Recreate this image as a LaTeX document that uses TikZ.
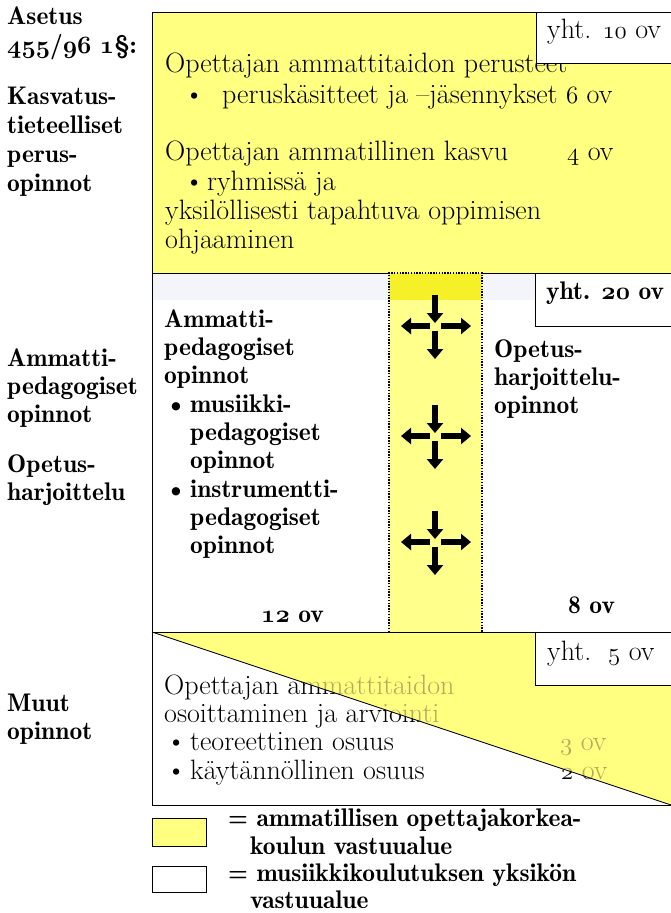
\documentclass[tikz,border=0pt]{standalone}
\usetikzlibrary{arrows.meta,calc}
\definecolor{ylw}{RGB}{255,255,128}
\definecolor{ylwcol}{RGB}{255,255,140}
\definecolor{ylwtop}{RGB}{246,240,40}
\definecolor{faded}{RGB}{185,168,92}
\definecolor{band}{RGB}{243,245,250}
\newcommand\osn[1]{$\mathnormal{#1}$}
\newcommand\bosn[1]{{\boldmath$\mathnormal{#1}$}}
\begin{document}
\begin{tikzpicture}[x=1pt,y=-1pt,
  txt/.style={anchor=base west,inner sep=0pt,font=\fontsize{28}{29}\selectfont},
  btxt/.style={anchor=base west,inner sep=0pt,font=\fontsize{25.5}{28}\fontseries{b}\selectfont},
  bline/.style={draw=black,line width=1pt},
  arr/.style={line width=5.5pt,-{Triangle[length=10pt,width=16pt]}},
  dotcol/.style={draw=black,line width=1.4pt,dash pattern=on 1.4pt off 1.4pt},
]
\useasboundingbox (0,0) rectangle (671,913);
% ---------- top section
\fill[ylw] (152,12) rectangle (673,273);
% ---------- middle section
\fill[white] (152,273) rectangle (673,632);
\fill[band] (152,273) rectangle (389,300);
\fill[band] (482,273) rectangle (535,300);
\fill[ylwcol] (389,273) rectangle (482,632);
\fill[ylwtop] (389,273) rectangle (482,300);
% ---------- bottom section
\fill[white] (152,632) rectangle (673,805);
\fill[ylw] (152,632) -- (673,632) -- (673,805) -- (671,805) -- cycle;

% ---------- left labels
\node[btxt] (l1) at (7,24) {Asetus};
\node[btxt] (l2) at (7,53) {\bosn{455}/\bosn{96} \bosn{1}\S:};
\node[btxt] (l3) at (7,104) {Kasvatus-};
\node[btxt] (l4) at (7,133) {tieteelliset};
\node[btxt] (l5) at (7,162) {perus-};
\node[btxt] (l6) at (7,191) {opinnot};
\node[btxt] (l7) at (7,366) {Ammatti-};
\node[btxt] (l8) at (7,394) {pedagogiset};
\node[btxt] (l9) at (7,422) {opinnot};
\node[btxt] (l10) at (7,472) {Opetus-};
\node[btxt] (l11) at (7,500) {harjoittelu};
\node[btxt] (l12) at (7,711) {Muut};
\node[btxt] (l13) at (7,739) {opinnot};

% ---------- top section text
\node[txt] (t1) at (165,72) {Opettajan ammattitaidon perusteet};
\node[txt] (t2b) at (184,103) {\textbullet};
\node[txt] (t2) at (222,103) {peruskäsitteet ja --jäsennykset \osn{6} ov};
\node[txt] (t3) at (165,160) {Opettajan ammatillinen kasvu};
\node[txt] (t3n) at (567,160) {\osn{4} ov};
\node[txt] (t4b) at (184,190) {\textbullet};
\node[txt] (t4) at (207,190) {ryhmissä ja};
\node[txt] (t5) at (165,219) {yksilöllisesti tapahtuva oppimisen};
\node[txt] (t6) at (165,248) {ohjaaminen};
% yht 10 box
\filldraw[fill=white,draw=black,line width=1pt] (673,12) -- (536,12) -- (536,63) -- (673,63);
\node[txt] (y10) at (547,38) {yht. \osn{10} ov};

% ---------- middle section text
\node[btxt] (m1) at (164,327) {Ammatti-};
\node[btxt] (m2) at (164,355) {pedagogiset};
\node[btxt] (m3) at (164,383) {opinnot};
\node[btxt] (m4b) at (166,412) {\textbullet};
\node[btxt] (m4) at (190,412) {musiikki-};
\node[btxt] (m5) at (190,440) {pedagogiset};
\node[btxt] (m6) at (190,468) {opinnot};
\node[btxt] (m7b) at (166,497) {\textbullet};
\node[btxt] (m7) at (190,497) {instrumentti-};
\node[btxt] (m8) at (190,525) {pedagogiset};
\node[btxt] (m9) at (190,553) {opinnot};
\node[btxt] (m10) at (261,622) {\bosn{12} ov};
\node[btxt] (o1) at (494,357) {Opetus-};
\node[btxt] (o2) at (494,385) {harjoittelu-};
\node[btxt] (o3) at (494,413) {opinnot};
\node[btxt] (o4) at (568,613) {8 ov};
% yht 20 box
\filldraw[fill=white,draw=black,line width=1pt] (673,273) -- (535,273) -- (535,326) -- (673,326);
\node[btxt] (y20) at (546,299) {yht. \bosn{20} ov};
% column border
\draw[dotcol] (389,632) -- (389,273) -- (482,273) -- (482,632);
% crosses
\foreach \i/\cy in {1/326,2/436,3/542}{
  \coordinate (c\i) at (435,\cy);
  \draw[arr] ($(c\i)+(0,-31)$) -- ($(c\i)+(0,-3)$);
  \draw[arr] ($(c\i)+(0,5)$) -- ($(c\i)+(0,33)$);
  \draw[arr] ($(c\i)+(-5,0)$) -- ($(c\i)+(-34,0)$);
  \draw[arr] ($(c\i)+(6,0)$) -- ($(c\i)+(36,0)$);
}

% ---------- bottom section text (black on white part, faded on yellow part)
\newcommand\bottomtext[1]{%
  \node[txt,text=#1] (b1) at (164,694) {Opettajan ammattitaidon};
  \node[txt,text=#1] (b2) at (164,722) {osoittaminen ja arviointi};
  \node[txt,text=#1] (b3b) at (166,750) {\textbullet};
  \node[txt,text=#1] (b3) at (190,750) {teoreettinen osuus};
  \node[txt,text=#1] (b3n) at (560,750) {\osn{3} ov};
  \node[txt,text=#1] (b4b) at (166,779) {\textbullet};
  \node[txt,text=#1] (b4) at (190,779) {käytännöllinen osuus};
  \node[txt,text=#1] (b4n) at (561,779) {\osn{2} ov};
}
\begin{scope}
  \clip (152,632) -- (671,805) -- (152,805) -- cycle;
  \bottomtext{black}
\end{scope}
\begin{scope}
  \clip (152,632) -- (673,632) -- (673,805) -- (671,805) -- cycle;
  \bottomtext{faded}
\end{scope}
\draw[line width=0.9pt] (152,632) -- (671,805);
% yht 5 box
\filldraw[fill=white,draw=black,line width=1pt] (673,632) -- (535,632) -- (535,685) -- (673,685);
\node[txt] (y5) at (547,660) {yht.\ \ \osn{5} ov};

% ---------- frame lines
\draw[bline] (673,12) -- (152,12) -- (152,805) -- (673,805);
\draw[bline] (152,273) -- (389,273);
\draw[bline] (482,273) -- (673,273);
\draw[bline] (152,632) -- (673,632);

% ---------- legend
\filldraw[fill=ylw,draw=black,line width=0.8pt] (152,818) rectangle (206,846);
\filldraw[fill=white,draw=black,line width=0.8pt] (152,866) rectangle (206,892);
\node[btxt] (g1) at (228,826) {= ammatillisen opettajakorkea-};
\node[btxt] (g2) at (250,854) {koulun vastuualue};
\node[btxt] (g3) at (228,881) {= musiikkikoulutuksen yksikön};
\node[btxt] (g4) at (250,908) {vastuualue};
\end{tikzpicture}
\end{document}
